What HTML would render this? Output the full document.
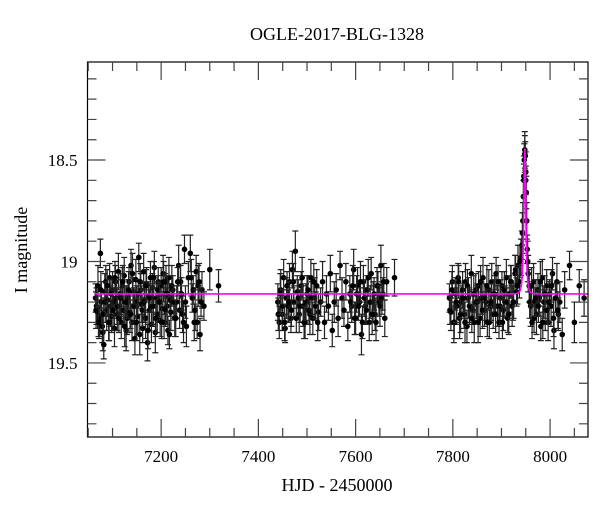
<!DOCTYPE html>
<html><head><meta charset="utf-8"><style>
body{margin:0;background:#fff;}
svg text{font-family:"Liberation Serif",serif;fill:#000;}
</style></head><body>
<svg id="chart" width="600" height="512" viewBox="0 0 600 512" xmlns="http://www.w3.org/2000/svg">
<text x="337" y="40" font-size="18" text-anchor="middle">OGLE-2017-BLG-1328</text>
<text x="337" y="491" font-size="18" text-anchor="middle">HJD - 2450000</text>
<text transform="translate(27,250) rotate(-90)" font-size="18" text-anchor="middle">I magnitude</text>
<g id="marks"></g>
<g id="axes"></g>
</svg>
<script>
const t1=[7065,7067,7069,7070,7072,7074,7075,7077,7079,7080,7082,7084,7086,7088,7090,7092,7094,7096,7098,7100,7102,7104,7106,7108,7110,7112,7114,7116,7118,7120,7122,7124,7126,7128,7130,7132,7134,7136,7138,7140,7142,7144,7146,7148,7150,7152,7154,7156,7158,7160,7162,7164,7166,7168,7170,7172,7174,7176,7178,7180,7182,7184,7186,7188,7190,7192,7194,7196,7198,7200,7202,7204,7206,7208,7210,7212,7214,7216,7218,7220,7224,7228,7232,7236,7240,7244,7248,7252,7256,7260,7264,7268,7272,7276,7280,7284,7288,7300,7318];
const m1=[19.18,19.22,19.25,19.12,19.3,19.28,18.96,19.2,19.32,19.35,19.41,19.15,19.1,19.24,19.19,19.3,19.08,19.22,19.27,19.14,19.2,19.33,19.1,19.18,19.26,19.05,19.22,19.16,19.3,19.12,19.24,19.07,19.2,19.34,19.28,19.18,19.1,19.25,19.02,19.3,19.15,19.22,19.38,19.09,19.2,19.27,18.98,19.36,19.14,19.21,19.33,19.05,19.19,19.28,19.11,19.4,19.17,19.24,19.08,19.31,19.13,19.22,19.03,19.35,19.18,19.26,19.1,19.2,19.29,19.12,19.23,19.06,19.3,19.16,19.1,19.22,19.34,19.08,19.19,19.25,19.14,19.28,19.2,19.02,19.1,19.26,18.94,19.32,19.08,18.96,19.18,19.3,19.05,19.12,19.36,19.14,19.22,19.04,19.12];
const t1b=[7066,7071,7076,7081,7085,7089,7093,7097,7101,7105,7109,7113,7117,7121,7125,7129,7133,7137,7141,7145,7149,7153,7157,7161,7165,7169,7173,7177,7181,7185,7189,7193,7197,7201,7205,7209,7213,7217,7222,7226,7230,7234,7238,7242,7246,7250,7262,7266,7270,7274,7278,7282];
const m1b=[19.24,19.3,19.14,19.26,19.2,19.12,19.3,19.16,19.24,19.08,19.22,19.28,19.18,19.1,19.32,19.2,19.14,19.26,19.06,19.22,19.3,19.16,19.1,19.24,19.2,19.12,19.34,19.18,19.22,19.08,19.28,19.14,19.2,19.3,19.1,19.24,19.16,19.36,19.12,19.2,19.28,19.1,19.24,19.16,19.3,19.2,19.08,19.14,19.24,19.3,19.1,19.2];
const t2=[7440,7443,7446,7449,7452,7455,7458,7461,7464,7467,7470,7473,7476,7480,7484,7488,7492,7496,7500,7504,7508,7512,7516,7520,7524,7528,7532,7536,7540,7544,7548,7552,7556,7560,7564,7568,7572,7576,7580,7584,7588,7592,7596,7600,7604,7608,7612,7616,7620,7624,7628,7632,7636,7640,7644,7648,7652,7656,7660,7664,7680];
const m2=[19.2,19.3,19.14,19.26,19.08,19.33,19.18,19.22,19.1,19.28,19.04,19.2,18.95,19.15,19.26,19.12,19.22,19.3,19.16,19.24,19.08,19.28,19.18,19.12,19.25,19.2,19.1,19.3,19.16,19.22,19.06,19.34,19.2,19.14,19.28,19.02,19.18,19.24,19.1,19.32,19.16,19.22,19.04,19.28,19.12,19.2,19.36,19.1,19.22,19.14,19.3,19.06,19.2,19.26,19.12,19.2,19.02,19.16,19.28,19.1,19.08];
const t2b=[7441,7445,7450,7454,7459,7463,7468,7472,7478,7482,7486,7490,7494,7498,7502,7506,7510,7514,7518,7522,7590,7594,7598,7602,7606,7610,7614,7618,7622,7626,7630,7634,7638,7642,7646,7650,7654,7658];
const m2b=[19.26,19.16,19.22,19.3,19.12,19.2,19.24,19.1,19.28,19.18,19.22,19.08,19.3,19.2,19.14,19.26,19.18,19.1,19.22,19.3,19.2,19.12,19.28,19.16,19.22,19.1,19.3,19.18,19.24,19.08,19.2,19.26,19.16,19.3,19.12,19.22,19.18,19.1];
const t3=[7793,7796,7799,7802,7805,7808,7811,7814,7817,7820,7823,7826,7829,7832,7835,7838,7841,7844,7847,7850,7853,7856,7859,7862,7865,7868,7871,7874,7877,7880,7883,7886,7889,7892,7895,7898,7901,7904,7907,7910,7913,7916,7919,7922,7925,7928,7931,7934,7937,7940,7942,7944,7945,7946,7947,7948,7949,7950,7951,7952,7953,7955,7957,7960,7963,7966,7969,7972,7975,7978,7981,7984,7987,7990,7993,7996,7999,8002,8005,8008,8011,8014,8017,8020,8025,8030,8040,8050,8060,8070];
const m3=[19.18,19.25,19.1,19.3,19.16,19.22,19.08,19.28,19.2,19.14,19.26,19.1,19.32,19.18,19.22,19.06,19.24,19.3,19.14,19.2,19.12,19.28,19.18,19.08,19.24,19.2,19.3,19.14,19.22,19.1,19.26,19.16,19.06,19.22,19.3,19.18,19.12,19.24,19.2,19.08,19.28,19.16,19.1,19.22,19.2,19.06,19.15,19.02,19.1,18.98,18.92,18.8,18.68,18.58,18.5,18.45,18.48,18.56,18.66,18.8,18.94,19.06,19.12,19.22,19.3,19.1,19.2,19.26,19.14,19.18,19.32,19.08,19.2,19.24,19.12,19.3,19.16,19.22,19.06,19.34,19.18,19.1,19.26,19.2,19.36,19.14,19.02,19.3,19.12,19.18];
const t3b=[7794,7798,7803,7807,7812,7816,7821,7825,7830,7834,7839,7843,7848,7852,7857,7861,7866,7870,7875,7879,7884,7888,7893,7897,7902,7906,7911,7915,7920,7924,7929,7933,7938,7943,7946,7948,7950,7954,7958,7962,7967,7971,7976,7980,7985,7989,7994,7998,8003,8007,8012,8016];
const m3b=[19.24,19.14,19.3,19.2,19.1,19.26,19.18,19.3,19.12,19.22,19.28,19.16,19.2,19.3,19.1,19.24,19.18,19.12,19.3,19.2,19.16,19.26,19.1,19.22,19.3,19.14,19.2,19.26,19.1,19.2,19.04,19.12,19.0,18.86,18.6,18.47,18.6,19.0,19.2,19.12,19.28,19.18,19.22,19.1,19.3,19.16,19.24,19.2,19.12,19.28,19.18,19.24];
const err=[0.07,0.09,0.08,0.1,0.08,0.09,0.07,0.1,0.08,0.09];
const modelBase=[19.16];const modelT0=[7948];const modelTE=[3.2];const modelU0=[0.58];
const xTicks=[7200,7400,7600,7800,8000];
const yTicks=[18.5,19,19.5];
const X0=7048.5,X1=8078,Y0=18.017,Y1=19.865,L=87.5,R=588,T=62,B=437;
const sx=v=>L+(v-X0)/(X1-X0)*(R-L);
const sy=v=>T+(v-Y0)/(Y1-Y0)*(B-T);
const NS="http://www.w3.org/2000/svg";
const marks=document.getElementById('marks'),axes=document.getElementById('axes');
function mk(tag,at,parent){const e=document.createElementNS(NS,tag);for(const k in at)e.setAttribute(k,at[k]);parent.appendChild(e);return e;}
let k=0;
[[t1,m1],[t1b,m1b],[t2,m2],[t2b,m2b],[t3,m3],[t3b,m3b]].forEach(([ts,ms])=>{ts.forEach((t,i)=>{
 const e=err[(k++)%err.length];const x=sx(t),ya=sy(ms[i]-e),yb=sy(ms[i]+e);
 const g=mk('g',{},marks);
 
 
 mk('path',{d:`M${x},${ya}V${yb}M${x-3},${ya}H${x+3}M${x-3},${yb}H${x+3}`,stroke:'#222','stroke-width':1.2,fill:'none'},g);
 mk('circle',{cx:x,cy:sy(ms[i]),r:2.8,fill:'#000'},g);
});});
let d='';
for(let t=7062;t<=X1;t+=0.25){const u=Math.sqrt(modelU0[0]**2+((t-modelT0[0])/modelTE[0])**2);const A=(u*u+2)/(u*Math.sqrt(u*u+4));const m=modelBase[0]-2.5*Math.log10(A);d+=(d?'L':'M')+sx(t).toFixed(2)+','+sy(m).toFixed(2);}
const ml=mk('path',{d:d,stroke:'#f0f',fill:'none','stroke-width':1.6},marks);


const fr=mk('rect',{x:L,y:T,width:R-L,height:B-T,fill:'none',stroke:'#000','stroke-width':1.2},axes);


let tk='';
for(let v=7050;v<=X1;v+=50){const x=sx(v);const len=(v%200===0)?18:9;tk+=`M${x},${B}v${-len}M${x},${T}v${len}`;}
for(let v=18.1;v<=19.86;v+=0.1){const vv=Math.round(v*10)/10;const y=sy(vv);const len=(Math.round(vv*10)%5===0)?18:9;tk+=`M${L},${y}h${len}M${R},${y}h${-len}`;}
const tp=mk('path',{d:tk,stroke:'#444','stroke-width':1.2,fill:'none'},axes);


xTicks.forEach(v=>{const e=mk('text',{x:sx(v),y:B+25,'font-size':17,'text-anchor':'middle'},axes);e.textContent=v;
 
 });
yTicks.forEach(v=>{const e=mk('text',{x:L-10,y:sy(v)+6,'font-size':17,'text-anchor':'end'},axes);e.textContent=v;
 
 });
</script>
</body></html>
